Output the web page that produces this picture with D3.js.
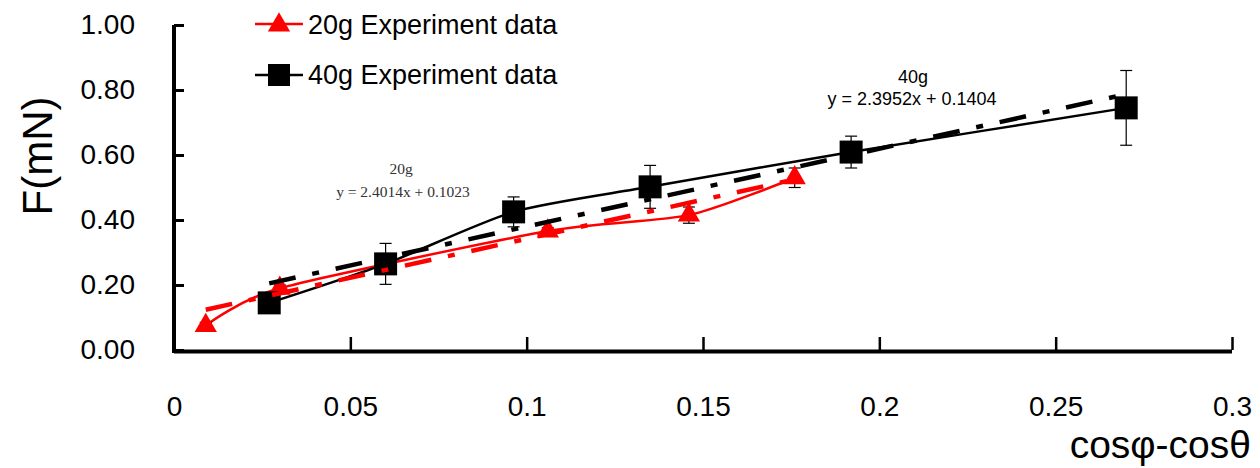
<!DOCTYPE html>
<html><head><meta charset="utf-8">
<script src="https://cdn.jsdelivr.net/npm/d3@7"></script>
<style>body{margin:0;background:#fff}svg{display:block}</style>
</head><body>
<svg id="c" width="1260" height="468"></svg>
<script>
// ---- data ----
const xTicks = [0, 0.05, 0.1, 0.15, 0.2, 0.25, 0.3];
const xTickLabels = ["0", "0.05", "0.1", "0.15", "0.2", "0.25", "0.3"];
const yTicks = [0, 0.2, 0.4, 0.6, 0.8, 1.0];
const yTickLabels = ["0.00", "0.20", "0.40", "0.60", "0.80", "1.00"];

const x20 = [0.009, 0.030, 0.106, 0.146, 0.176];
const y20 = [0.075, 0.19, 0.366, 0.415, 0.53];
const e20 = [0.01, 0.01, 0.01, 0.025, 0.03];

const x40 = [0.027, 0.060, 0.0963, 0.135, 0.192, 0.270];
const y40 = [0.145, 0.265, 0.425, 0.502, 0.609, 0.745];
const e40 = [0.02, 0.063, 0.046, 0.066, 0.049, 0.115];

const fit20 = [2.4014, 0.1023];
const fit40 = [2.3952, 0.1404];
const seriesNames = ["20g Experiment data", "40g Experiment data"];
const fitLabels = ["20g", "y = 2.4014x + 0.1023", "40g", "y = 2.3952x + 0.1404"];
const xTitle = "cosφ-cosθ";
const yTitle = "F(mN)";

// ---- drawing ----
const svg = d3.select("#c");
const sans = "'Liberation Sans', Arial, sans-serif";
const serif = "'Liberation Serif', 'Times New Roman', serif";
const x = d3.scaleLinear().domain([0, 0.3]).range([174, 1232]);
const y = d3.scaleLinear().domain([0, 1]).range([350, 25]);

const d20 = x20.map((v, i) => ({x: v, y: y20[i], e: e20[i]}));
const d40 = x40.map((v, i) => ({x: v, y: y40[i], e: e40[i]}));

// axes
const xa = svg.append("g").attr("transform", `translate(0,${y(0)})`)
  .call(d3.axisBottom(x).tickValues(xTicks).tickFormat((d, i) => xTickLabels[i])
    .tickSizeInner(-13).tickSizeOuter(0).tickPadding(46));
xa.select(".domain").attr("stroke-width", 4).attr("d", `M${x(0)},1.5H${x(0.3)}`);
xa.selectAll(".tick line").attr("stroke-width", 2.5);
xa.selectAll("text").attr("font-family", sans).attr("font-size", 28).attr("fill", "#000");

const ya = svg.append("g").attr("transform", `translate(${x(0)},0)`)
  .call(d3.axisLeft(y).tickValues(yTicks).tickFormat((d, i) => yTickLabels[i])
    .tickSizeInner(-10).tickSizeOuter(0).tickPadding(39));
ya.select(".domain").attr("stroke-width", 4).attr("d", `M0,${y(1)}V${y(0) + 3}`);
ya.selectAll(".tick line").attr("stroke-width", 3);
ya.selectAll("text").attr("font-family", sans).attr("font-size", 28).attr("fill", "#000");

// titles
svg.append("text").attr("x", 1251).attr("y", 458).attr("text-anchor", "end")
  .attr("font-family", sans).attr("font-size", 39).text(xTitle);
svg.append("text").attr("transform", `translate(52,156) rotate(-90)`).attr("text-anchor", "middle")
  .attr("font-family", sans).attr("font-size", 42).text(yTitle);

// smooth lines
const line = d3.line().x(d => x(d.x)).y(d => y(d.y)).curve(d3.curveCardinal.tension(0.3));
svg.append("path").datum(d20).attr("d", line).attr("fill", "none").attr("stroke", "#ff0000").attr("stroke-width", 2.5);
svg.append("path").datum(d40).attr("d", line).attr("fill", "none").attr("stroke", "#000").attr("stroke-width", 2.5);

// error bars
function errBars(data) {
  const g = svg.append("g").attr("stroke", "#000").attr("stroke-width", 1.2);
  data.forEach(d => {
    const cx = x(d.x), t = y(d.y + d.e), b = y(d.y - d.e);
    g.append("line").attr("x1", cx).attr("x2", cx).attr("y1", t).attr("y2", b);
    g.append("line").attr("x1", cx - 6).attr("x2", cx + 6).attr("y1", t).attr("y2", t);
    g.append("line").attr("x1", cx - 6).attr("x2", cx + 6).attr("y1", b).attr("y2", b);
  });
}
errBars(d20);
errBars(d40);

// markers
const tri = d3.symbol().type(d3.symbolTriangle).size(215);
svg.append("g").selectAll("path").data(d20).join("path")
  .attr("d", tri).attr("transform", d => `translate(${x(d.x)},${y(d.y)})`).attr("fill", "#ff0000");
svg.append("g").selectAll("rect").data(d40).join("rect")
  .attr("x", d => x(d.x) - 11.5).attr("y", d => y(d.y) - 11.5).attr("width", 23).attr("height", 23).attr("fill", "#000");

// trendlines
function trend(fit, xs, color) {
  const x0 = d3.min(xs), x1 = d3.max(xs);
  svg.append("line").attr("x1", x(x0)).attr("y1", y(fit[0] * x0 + fit[1]))
    .attr("x2", x(x1)).attr("y2", y(fit[0] * x1 + fit[1]))
    .attr("stroke", color).attr("stroke-width", 4.5).attr("stroke-dasharray", "27,17,7,17");
}
trend(fit20, x20, "#ff0000");
trend(fit40, x40, "#000");

// fit labels
svg.append("text").attr("x", 401).attr("y", 174).attr("text-anchor", "middle").attr("font-family", serif).attr("font-size", 15.5).attr("fill", "#333").text(fitLabels[0]);
svg.append("text").attr("x", 403).attr("y", 197).attr("text-anchor", "middle").attr("font-family", serif).attr("font-size", 15.5).attr("fill", "#333").text(fitLabels[1]);
svg.append("text").attr("x", 913).attr("y", 83).attr("text-anchor", "middle").attr("font-family", sans).attr("font-size", 18).text(fitLabels[2]);
svg.append("text").attr("x", 912).attr("y", 105).attr("text-anchor", "middle").attr("font-family", sans).attr("font-size", 18).text(fitLabels[3]);

// legend
const lg = svg.append("g");
lg.append("line").attr("x1", 255).attr("x2", 303).attr("y1", 24).attr("y2", 24).attr("stroke", "#ff0000").attr("stroke-width", 2.5);
lg.append("path").attr("d", tri).attr("transform", "translate(279,25)").attr("fill", "#ff0000");
lg.append("text").attr("x", 308).attr("y", 34).attr("font-family", sans).attr("font-size", 27).text(seriesNames[0]);
lg.append("line").attr("x1", 255).attr("x2", 303).attr("y1", 75).attr("y2", 75).attr("stroke", "#000").attr("stroke-width", 2.5);
lg.append("rect").attr("x", 268).attr("y", 64).attr("width", 22).attr("height", 22).attr("fill", "#000");
lg.append("text").attr("x", 308).attr("y", 84).attr("font-family", sans).attr("font-size", 27).text(seriesNames[1]);
</script>
</body></html>
